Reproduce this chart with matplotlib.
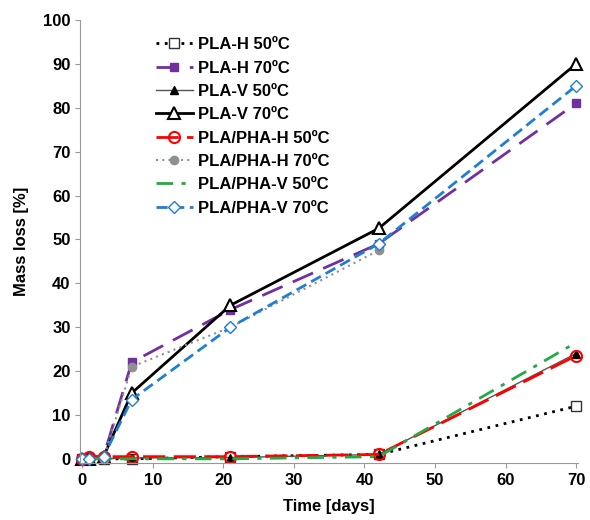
import numpy as np
import matplotlib.pyplot as plt

plt.rcParams['font.family'] = ['Liberation Sans', 'DejaVu Sans']

days = [0, 1, 3, 7, 21, 42, 70]
days_42 = [0, 1, 3, 7, 21, 42]

pla_h_50 = [0, 0, 0, 0, 0.5, 1, 12]
pla_h_70 = [0, 0.5, 0.5, 22, 34, 49, 81]
pla_v_50 = [0, 0, 0, 0.2, 0.3, 1, 24]
pla_v_70 = [0, 0, 0.5, 15, 35, 52.5, 90]
plapha_h_50 = [0, 0.5, 0.5, 0.5, 0.5, 1, 23.5]
plapha_h_70 = [0, 0, 0, 21, 30, 47.5]
plapha_v_50 = [0, 0, 0, 0, 0, 0.5, 26.5]
plapha_v_70 = [0, 0, 0.5, 13.5, 30, 49, 85]

fig, ax = plt.subplots(figsize=(5.9, 5.2), dpi=100)

ax.plot(days, pla_h_50, color='black', linestyle=(0, (1, 2)), linewidth=2,
        marker='s', markersize=7, markerfacecolor='white', markeredgecolor='#333333',
        label='PLA-H 50ºC', clip_on=False)
ax.plot(days, pla_h_70, color='#7030a0', linestyle=(0, (8, 4)), linewidth=2,
        marker='s', markersize=6, label='PLA-H 70ºC', clip_on=False)
ax.plot(days, pla_v_50, color='#555555', linestyle='-', linewidth=1,
        marker='^', markersize=6, markerfacecolor='black', markeredgecolor='black',
        label='PLA-V 50ºC', clip_on=False)
ax.plot(days, pla_v_70, color='black', linestyle='-', linewidth=2,
        marker='^', markersize=8, markerfacecolor='white', markeredgecolor='black',
        markeredgewidth=1.5, label='PLA-V 70ºC', clip_on=False)
ax.plot(days, plapha_h_50, color='red', linestyle=(0, (8, 3)), linewidth=2,
        marker='o', markersize=8, markerfacecolor='none', markeredgecolor='red',
        markeredgewidth=1.5, label='PLA/PHA-H 50ºC', clip_on=False)
ax.plot(days_42, plapha_h_70, color='#909090', linestyle=(0, (1, 2)), linewidth=1.5,
        marker='o', markersize=6, markerfacecolor='#909090', markeredgecolor='#909090',
        label='PLA/PHA-H 70ºC', clip_on=False)
ax.plot(days, plapha_v_50, color='#22aa44', linestyle=(0, (6, 3, 1.5, 3)), linewidth=2,
        label='PLA/PHA-V 50ºC', clip_on=False)
ax.plot(days, plapha_v_70, color='#1f7fd0', linestyle=(0, (4, 2)), linewidth=2,
        marker='D', markersize=6, markerfacecolor='white', markeredgecolor='#1f7fd0',
        label='PLA/PHA-V 70ºC', clip_on=False)

ax.set_xlim(-0.3, 70.3)
ax.set_ylim(-0.9, 100)
ax.set_xticks(np.arange(0, 71, 10))
ax.set_yticks(np.arange(0, 101, 10))
ax.set_xlabel('Time [days]', fontsize=12, fontweight='bold', labelpad=8)
ax.set_ylabel('Mass loss [%]', fontsize=12, fontweight='bold', labelpad=10)
ax.tick_params(labelsize=12, direction='out', color='#999999')
for lab in ax.get_xticklabels() + ax.get_yticklabels():
    lab.set_fontweight('bold')
for s in ['top', 'right']:
    ax.spines[s].set_visible(False)
for s in ['left', 'bottom']:
    ax.spines[s].set_color('#999999')

leg = ax.legend(loc='upper left', bbox_to_anchor=(0.122, 0.995), frameon=False,
                prop={'weight': 'bold', 'size': 12}, handlelength=2.2,
                labelspacing=0.5, handletextpad=0.3)

fig.subplots_adjust(left=0.136, right=0.98, top=0.9615, bottom=0.11)
fig.savefig('out.png')
